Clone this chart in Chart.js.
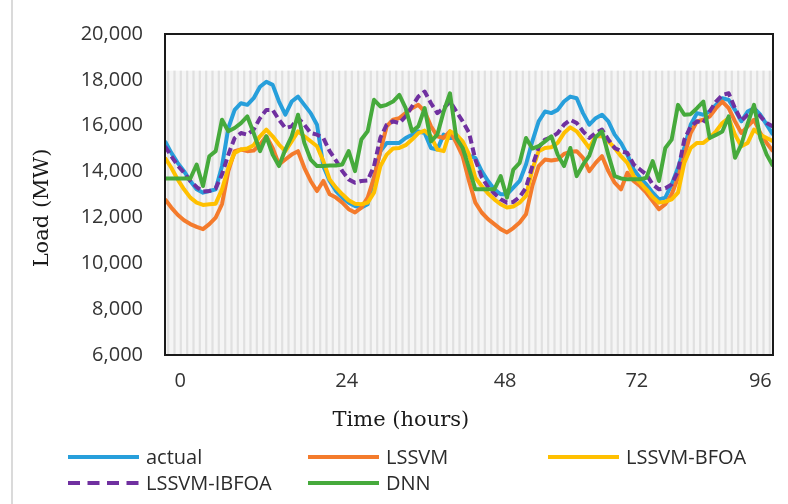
<!DOCTYPE html>
<html>
<head>
<meta charset="utf-8">
<script src="https://cdn.jsdelivr.net/npm/chart.js@4/dist/chart.umd.min.js"></script>
<style>
  html, body { margin: 0; padding: 0; background: #ffffff; }
  #wrap { width: 788px; height: 504px; position: relative; }
</style>
</head>
<body>
<div id="wrap"><canvas id="c" width="788" height="504"></canvas></div>
<script>
// ---- data ----
const hours = Array.from({ length: 97 }, (_, i) => i);

const actual = [
  15320,14815,14380,14020,13590,13225,13080,13150,13225,14235,
  15900,16690,16980,16910,17200,17700,17920,17780,17055,16480,
  17055,17270,16910,16550,16045,14235,13590,13150,12865,12645,
  12500,12430,12575,13730,14890,15250,15250,15250,15465,15610,
  15755,15680,15030,14960,15610,15465,15465,15000,14700,14600,
  14020,13590,13225,13010,13010,13300,13590,14310,15320,16190,
  16620,16550,16690,17055,17270,17200,16550,16045,16330,16480,
  16190,15610,15250,14740,14090,13730,13440,13080,12790,12865,
  13440,14165,15030,16045,16550,16480,16620,16910,17200,17125,
  16690,16190,16620,16765,16480,16045,15610
];

const lssvm = [
  12790,12430,12115,11880,11710,11590,11490,11710,11995,12575,
  14020,14890,14960,14890,14915,15180,15540,15030,14310,14525,
  14740,14890,14165,13590,13150,13590,13010,12865,12645,12360,
  12215,12430,12865,13730,14890,15970,16260,16330,16550,16765,
  16910,16620,15970,15540,15465,15755,15250,14670,13590,12645,
  12215,11925,11710,11490,11345,11535,11780,12140,13370,14240,
  14525,14480,14525,14770,14860,14890,14600,14020,14380,14670,
  14020,13515,13225,13950,13590,13370,13080,12720,12360,12575,
  13010,13730,14670,15680,16190,16260,16405,16765,17055,16765,
  16190,15680,15970,16260,15680,15250,14890
];

const lssvmBfoa = [
  14600,14165,13660,13225,12865,12645,12545,12575,12600,13225,
  14165,14815,14960,15005,15150,15540,15830,15540,15180,14890,
  15320,15755,15540,15320,15105,14455,13660,13300,13010,12750,
  12600,12575,12645,13080,14235,14740,15005,15030,15150,15395,
  15680,15785,15540,14960,14890,15755,15610,15320,14750,13730,
  13370,13040,12790,12575,12430,12475,12645,12935,14090,14890,
  15030,15060,15250,15680,15930,15755,15395,15030,15540,15540,
  15320,15030,14670,14380,13800,13515,13225,12890,12645,12690,
  12790,13080,14380,15030,15250,15250,15465,15755,16115,16330,
  15610,15105,15250,15830,15610,15465,15320
];

const lssvmIbfoa = [
  15105,14670,14265,13950,13590,13325,13125,13150,13270,13875,
  14740,15465,15680,15610,15830,16330,16690,16690,16260,15900,
  15970,16330,16045,15680,15610,15465,14890,14480,14020,13660,
  13515,13590,13615,14235,15465,16045,16190,16115,16405,16840,
  17270,17490,16980,16550,16765,17055,16620,16190,15700,14525,
  13760,13325,13040,12790,12645,12675,12890,13300,14235,15060,
  15395,15495,15680,16045,16260,16115,15755,15465,15680,15830,
  15395,15030,14890,14815,14310,14090,13875,13440,13225,13270,
  13440,14020,15395,15970,16190,16115,16620,17055,17340,17415,
  16765,16215,16480,16765,16405,16115,15970
];

const dnn = [
  13700,13700,13700,13700,13700,14310,13370,14670,14890,16260,
  15755,15900,16115,16405,15680,14890,15540,14740,14240,14960,
  15540,16480,15250,14525,14240,14240,14265,14265,14310,14890,
  14020,15395,15755,17130,16840,16910,17055,17340,16765,15755,
  15970,16765,15320,15610,16620,17415,15465,15030,14150,13225,
  13225,13225,13225,13805,12865,14090,14380,15465,15005,15105,
  15320,15540,14740,14240,15030,13800,14300,14700,15500,15755,
  14740,13800,13700,13660,13660,13660,13730,14455,13590,15030,
  15395,16910,16480,16505,16765,17055,15465,15600,15750,16405,
  14600,15180,16090,16910,15465,14740,14240
];

const seriesNames = ['actual', 'LSSVM', 'LSSVM-BFOA', 'LSSVM-IBFOA', 'DNN'];
const xTickLabels = ['0', '24', '48', '72', '96'];
const yAxisTitle = 'Load (MW)';
const xAxisTitle = 'Time (hours)';

// ---- styling / layout ----
const colors = ['#279fdb', '#f47b2c', '#ffc000', '#7030a0', '#46aa3c'];
const xTickAt = [2.4, 28.7, 53.7, 74.5, 94.0];   // where the reference prints its hour labels
const TICK_FONT = { family: 'Open Sans', size: 20 };

function pts(arr) { return hours.map((h, i) => ({ x: h, y: arr[i] })); }

const seriesData = [actual, lssvm, lssvmBfoa, lssvmIbfoa, dnn];
const datasets = seriesData.map((arr, i) => ({
  label: seriesNames[i],
  data: pts(arr),
  borderColor: colors[i],
  backgroundColor: colors[i],
  borderWidth: 4,
  borderDash: i === 3 ? [8, 4] : [],
  legendDash: i === 3 ? [12, 7.5] : [],
  pointRadius: 0,
  tension: 0,
  borderJoinStyle: 'round',
  borderCapStyle: 'butt',
  fill: false,
  order: 5 - i
}));

const decor = {
  id: 'decor',
  beforeDraw(chart) {
    const { ctx } = chart;
    ctx.save();
    ctx.fillStyle = '#ffffff';
    ctx.fillRect(0, 0, chart.width, chart.height);
    ctx.strokeStyle = '#dadada';
    ctx.lineWidth = 2;
    ctx.beginPath();
    ctx.moveTo(12, 0);
    ctx.lineTo(12, chart.height);
    ctx.stroke();
    ctx.restore();
  },
  beforeDatasetsDraw(chart) {
    const { ctx, chartArea: a, scales: { x, y } } = chart;
    const top = y.getPixelForValue(18400);
    ctx.save();
    ctx.fillStyle = '#f5f5f5';
    ctx.fillRect(a.left, top, a.right - a.left, a.bottom - top);
    ctx.fillStyle = '#e0e0e0';
    hours.forEach(h => {
      const px = x.getPixelForValue(h + 0.5);
      if (px < a.right - 1) ctx.fillRect(px - 1.1, top, 2.2, a.bottom - top);
    });
    ctx.restore();
  },
  afterDraw(chart) {
    const { ctx, chartArea: a } = chart;
    ctx.save();
    // plot frame
    ctx.strokeStyle = '#1a1a1a';
    ctx.lineWidth = 2;
    ctx.strokeRect(a.left, a.top, a.right - a.left, a.bottom - a.top);

    // axis titles
    ctx.fillStyle = '#1a1a1a';
    ctx.font = '21px "DejaVu Serif"';
    ctx.textAlign = 'center';
    ctx.textBaseline = 'middle';
    ctx.fillText(xAxisTitle, a.left + 0.388 * (a.right - a.left), 421);
    ctx.save();
    ctx.translate(43, a.top + 0.542 * (a.bottom - a.top));
    ctx.rotate(-Math.PI / 2);
    ctx.fillText(yAxisTitle, 0, 0);
    ctx.restore();

    // legend (3 columns, 2 rows)
    const cols = [68, 308, 548];
    const rows = [457, 483];
    const lineLen = 71;
    ctx.font = '20px "Open Sans"';
    ctx.textAlign = 'left';
    ctx.textBaseline = 'middle';
    chart.data.datasets.forEach((ds, i) => {
      const x0 = cols[i % 3];
      const y0 = rows[Math.floor(i / 3)];
      ctx.strokeStyle = ds.borderColor;
      ctx.lineWidth = 4;
      ctx.lineCap = 'butt';
      ctx.setLineDash(ds.legendDash);
      ctx.beginPath();
      ctx.moveTo(x0, y0);
      ctx.lineTo(x0 + lineLen, y0);
      ctx.stroke();
      ctx.setLineDash([]);
      ctx.fillStyle = '#2b2b2b';
      ctx.fillText(ds.label, x0 + lineLen + 7, y0 + 1);
    });
    ctx.restore();
  }
};

new Chart(document.getElementById('c'), {
  type: 'line',
  data: { datasets },
  options: {
    responsive: false,
    devicePixelRatio: 1,
    animation: false,
    layout: { padding: { top: 32, right: 15, left: 0, bottom: 0 } },
    plugins: { legend: { display: false }, tooltip: { enabled: false } },
    scales: {
      x: {
        type: 'linear',
        min: 0,
        max: 96,
        grid: { display: false, drawTicks: false },
        border: { display: false },
        afterBuildTicks(s) { s.ticks = xTickAt.map(v => ({ value: v })); },
        afterFit(s) { s.height = 149; },
        ticks: {
          autoSkip: false,
          maxRotation: 0,
          padding: 14,
          color: '#333333',
          font: TICK_FONT,
          callback: (v, i) => xTickLabels[i]
        }
      },
      y: {
        min: 6000,
        max: 20000,
        grid: { display: false, drawTicks: false },
        border: { display: false },
        afterFit(s) { s.width = 165; },
        ticks: {
          stepSize: 2000,
          padding: 22,
          color: '#333333',
          font: TICK_FONT,
          callback: v => Number(v).toLocaleString('en-US')
        }
      }
    }
  },
  plugins: [decor]
});
</script>
</body>
</html>
